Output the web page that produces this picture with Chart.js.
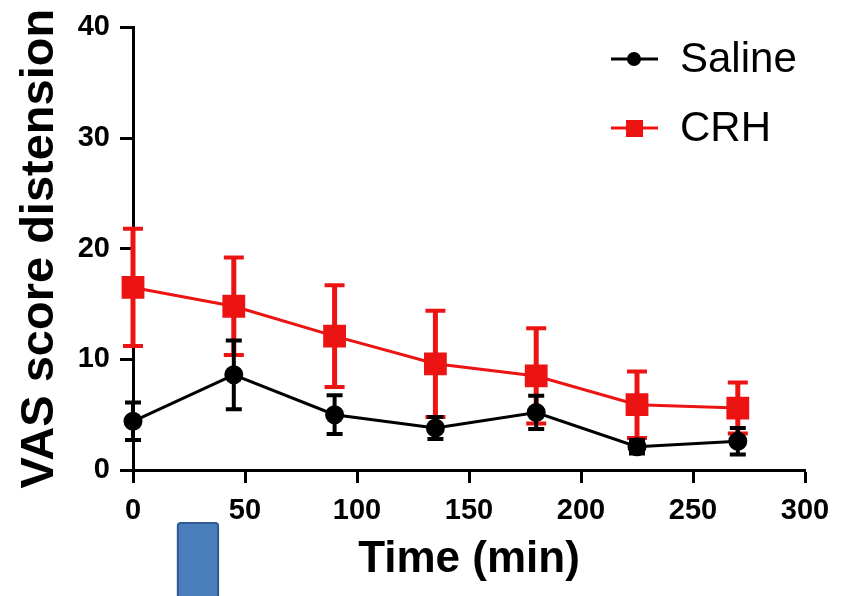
<!DOCTYPE html>
<html>
<head>
<meta charset="utf-8">
<script src="https://cdn.jsdelivr.net/npm/chart.js@4"></script>
<style>
  html, body { margin: 0; padding: 0; background: #fff; }
  #wrap { width: 843px; height: 596px; }
</style>
</head>
<body>
<div id="wrap"><canvas id="chart" width="843" height="596"></canvas></div>
<script>
// time points (min)
const times = [0, 45, 90, 135, 180, 225, 270];
// mean VAS scores
const salineMean = [4.4, 8.6, 5.0, 3.8, 5.2, 2.1, 2.6];
const crhMean = [16.5, 14.8, 12.1, 9.6, 8.5, 5.9, 5.6];
// error (SEM)
const salineErr = [1.7, 3.1, 1.75, 1.0, 1.5, 0.6, 1.2];
const crhErr = [5.3, 4.4, 4.6, 4.8, 4.3, 3.0, 2.3];
// infusion window on the time axis (min)
const infusion = [20, 38];

const RED = '#ec1313';
const BLACK = '#000';
const FONT = '"Liberation Sans", Arial, sans-serif';

function points(ys) {
  return times.map((t, i) => ({ x: t, y: ys[i] }));
}

// error bars drawn under each dataset
const errorBars = {
  id: 'errorBars',
  beforeDatasetDraw(chart, args) {
    const ds = chart.data.datasets[args.index];
    const meta = args.meta;
    const ctx = chart.ctx;
    const y = chart.scales.y;
    ctx.save();
    ctx.strokeStyle = ds.borderColor;
    meta.data.forEach((pt, i) => {
      const m = ds.data[i].y, e = ds.errors[i];
      const top = y.getPixelForValue(m + e), bot = y.getPixelForValue(m - e);
      ctx.lineWidth = ds.errStem;
      ctx.beginPath();
      ctx.moveTo(pt.x, top); ctx.lineTo(pt.x, bot);
      ctx.stroke();
      ctx.lineWidth = 4;
      ctx.beginPath();
      ctx.moveTo(pt.x - ds.capHalf, top); ctx.lineTo(pt.x + ds.capHalf, top);
      ctx.moveTo(pt.x - ds.capHalf, bot); ctx.lineTo(pt.x + ds.capHalf, bot);
      ctx.stroke();
    });
    ctx.restore();
  }
};

// legend with line-marker-line samples
const lineLegend = {
  id: 'lineLegend',
  afterDraw(chart) {
    const ctx = chart.ctx;
    const rows = [59, 128];
    ctx.save();
    chart.data.datasets.forEach((ds, i) => {
      const cy = rows[i];
      ctx.strokeStyle = ds.borderColor;
      ctx.fillStyle = ds.borderColor;
      ctx.lineWidth = 3;
      ctx.beginPath();
      ctx.moveTo(611, cy); ctx.lineTo(658, cy);
      ctx.stroke();
      if (ds.pointStyle === 'rect') {
        ctx.fillRect(626, cy - 8, 17, 17);
      } else {
        ctx.beginPath();
        ctx.arc(634, cy, 7, 0, Math.PI * 2);
        ctx.fill();
      }
      ctx.fillStyle = '#000';
      ctx.font = '42px ' + FONT;
      ctx.textBaseline = 'middle';
      ctx.fillText(ds.label, 680, cy + 1);
    });
    ctx.restore();
  }
};

// blue infusion block under the time axis
const infusionBar = {
  id: 'infusionBar',
  afterDraw(chart) {
    const x = chart.scales.x;
    const ctx = chart.ctx;
    const x0 = x.getPixelForValue(infusion[0]);
    const x1 = x.getPixelForValue(infusion[1]);
    const top = x.top + 53;
    ctx.save();
    ctx.fillStyle = '#4a7dbb';
    ctx.strokeStyle = '#2e5a8e';
    ctx.lineWidth = 2;
    ctx.beginPath();
    ctx.roundRect(x0, top, x1 - x0, chart.height - top + 4, 3);
    ctx.fill();
    ctx.stroke();
    ctx.restore();
  }
};

new Chart(document.getElementById('chart'), {
  type: 'line',
  data: {
    datasets: [
      {
        label: 'Saline',
        data: points(salineMean),
        errors: salineErr,
        borderColor: BLACK,
        backgroundColor: BLACK,
        borderWidth: 3,
        pointStyle: 'circle',
        pointRadius: 8,
        errStem: 4,
        capHalf: 8,
        clip: false,
        tension: 0
      },
      {
        label: 'CRH',
        data: points(crhMean),
        errors: crhErr,
        borderColor: RED,
        backgroundColor: RED,
        borderWidth: 3,
        pointStyle: 'rect',
        pointRadius: 14,
        errStem: 5,
        capHalf: 10,
        clip: false,
        tension: 0
      }
    ]
  },
  options: {
    responsive: false,
    animation: false,
    layout: { padding: { left: 0, right: 38, top: 25, bottom: 0 } },
    plugins: {
      legend: { display: false },
      tooltip: { enabled: false }
    },
    scales: {
      x: {
        type: 'linear',
        min: 0, max: 300,
        ticks: { stepSize: 50, color: '#000', padding: 11, font: { family: FONT, size: 29, weight: 'bold' } },
        grid: { drawOnChartArea: false, drawTicks: true, tickLength: 13, tickWidth: 3, tickColor: '#000' },
        border: { color: '#000', width: 3 },
        title: { display: true, text: 'Time (min)', color: '#000', padding: { top: 0, bottom: 10 }, font: { family: FONT, size: 44, weight: 'bold' } },
        afterFit(scale) { scale.height = 126; }
      },
      y: {
        min: 0, max: 40,
        ticks: { stepSize: 10, color: '#000', padding: 10, font: { family: FONT, size: 29, weight: 'bold' } },
        grid: { drawOnChartArea: false, drawTicks: true, tickLength: 13, tickWidth: 3, tickColor: '#000' },
        border: { color: '#000', width: 3 },
        title: { display: true, text: 'VAS score distension', color: '#000', padding: { top: 12, bottom: 0 }, font: { family: FONT, size: 47, weight: 'bold' } },
        afterFit(scale) { scale.width = 133; }
      }
    }
  },
  plugins: [errorBars, lineLegend, infusionBar]
});
</script>
</body>
</html>
